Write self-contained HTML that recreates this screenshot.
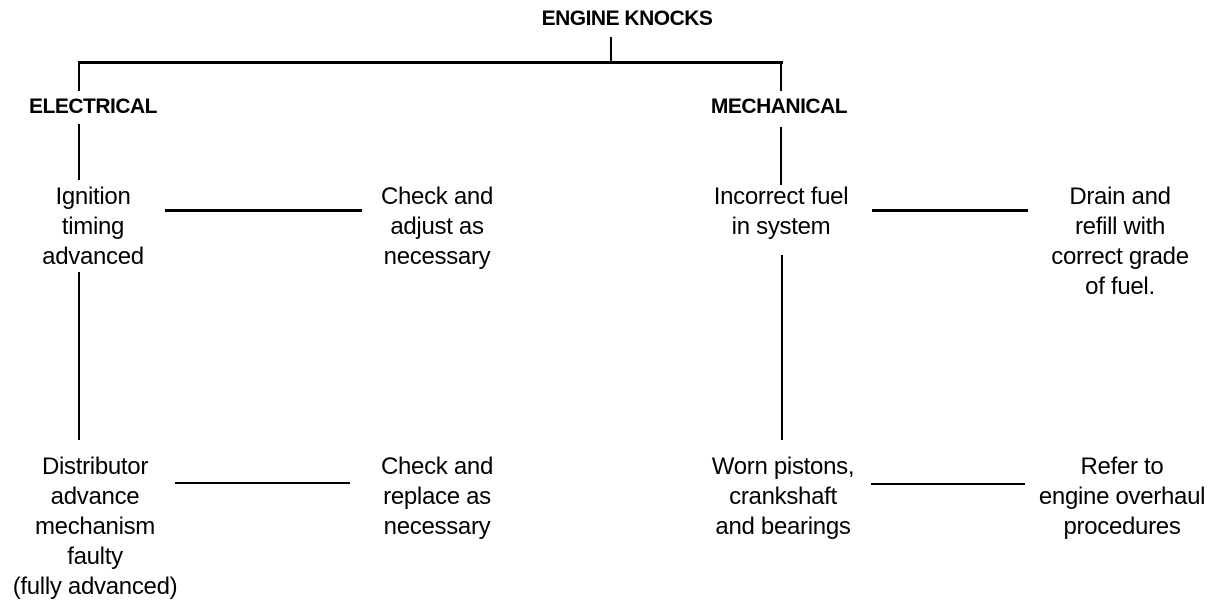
<!DOCTYPE html>
<html><head><style>
body{margin:0;width:1232px;height:604px;background:#fff;position:relative;overflow:hidden;font-family:"Liberation Sans",sans-serif;color:#000}
.t{position:absolute;text-align:center;font-size:24px;line-height:30px;white-space:nowrap;transform:translateX(-50%);letter-spacing:-0.3px}
.b{font-weight:bold;font-size:21px;letter-spacing:-0.5px}
.l{position:absolute;background:#000}
</style></head><body>
<div class="t b" style="left:627px;top:4px">ENGINE KNOCKS</div>
<div class="l" style="left:610px;top:37px;width:2px;height:26px"></div>
<div class="l" style="left:78px;top:61px;width:705px;height:3px"></div>
<div class="l" style="left:78px;top:61px;width:2px;height:30px"></div>
<div class="l" style="left:780px;top:61px;width:2px;height:30px"></div>
<div class="t b" style="left:93px;top:92px">ELECTRICAL</div>
<div class="t b" style="left:779px;top:92px">MECHANICAL</div>
<div class="l" style="left:78px;top:124px;width:2px;height:56px"></div>
<div class="l" style="left:780px;top:127px;width:2px;height:58px"></div>
<div class="l" style="left:78px;top:272px;width:2px;height:168px"></div>
<div class="l" style="left:781px;top:255px;width:2px;height:185px"></div>

<div class="t" style="left:93px;top:182px">Ignition<br>timing<br>advanced</div>
<div class="t" style="left:437px;top:182px">Check and<br>adjust as<br>necessary</div>
<div class="l" style="left:165px;top:209px;width:197px;height:3px"></div>
<div class="t" style="left:781px;top:182px">Incorrect fuel<br>in system</div>
<div class="t" style="left:1120px;top:182px">Drain and<br>refill with<br>correct grade<br>of fuel.</div>
<div class="l" style="left:872px;top:209px;width:156px;height:3px"></div>

<div class="t" style="left:95px;top:452px">Distributor<br>advance<br>mechanism<br>faulty<br>(fully advanced)</div>
<div class="t" style="left:437px;top:452px">Check and<br>replace as<br>necessary</div>
<div class="l" style="left:175px;top:482px;width:175px;height:2px"></div>
<div class="t" style="left:783px;top:452px">Worn pistons,<br>crankshaft<br>and bearings</div>
<div class="t" style="left:1122px;top:452px">Refer to<br>engine overhaul<br>procedures</div>
<div class="l" style="left:871px;top:483px;width:154px;height:2px"></div>
</body></html>
